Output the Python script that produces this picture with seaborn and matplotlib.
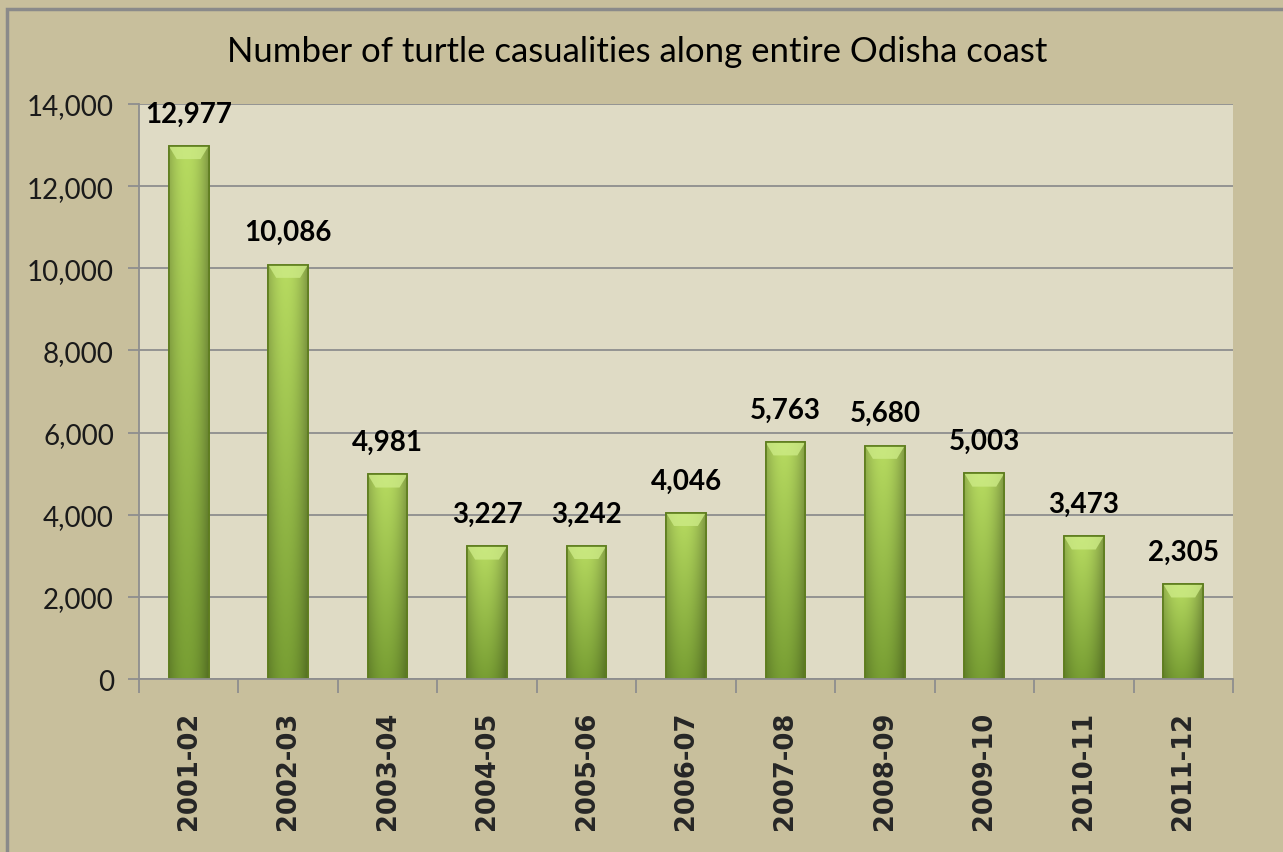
import numpy as np
import pandas as pd
import matplotlib
matplotlib.use("Agg")
import matplotlib.pyplot as plt
from matplotlib.patches import Rectangle
from matplotlib.ticker import FuncFormatter, MultipleLocator
import seaborn as sns

seasons = ["2001-02", "2002-03", "2003-04", "2004-05", "2005-06", "2006-07",
           "2007-08", "2008-09", "2009-10", "2010-11", "2011-12"]
casualties = [12977, 10086, 4981, 3227, 3242, 4046, 5763, 5680, 5003, 3473, 2305]

title = "Number of turtle casualities along entire Odisha coast"

outer_bg = "#C8BF9C"
plot_bg = "#DFDBC5"
grid_col = "#8E8E8E"

df = pd.DataFrame({"season": seasons, "casualties": casualties})

sns.set_theme(style="white")
plt.rcParams["font.family"] = ["Lato", "DejaVu Sans"]

fig = plt.figure(figsize=(12.83, 8.53), dpi=100, facecolor=outer_bg)
ax = fig.add_axes([0.1083, 0.2028, 0.8527, 0.6742])
ax.set_facecolor(plot_bg)

sns.barplot(data=df, x="season", y="casualties", color="#9DC742",
            width=0.4, saturation=1, edgecolor="#5E7D1E", linewidth=1.2, ax=ax)

ax.set_ylim(0, 14000)
ax.set_xlim(-0.5, len(seasons) - 0.5)

# gradient fill on each bar
ny, nx = 120, 60
yy = np.linspace(0, 1, ny)[:, None]      # 0 = top, 1 = bottom
xx = np.linspace(0, 1, nx)[None, :]
top = np.array([0.72, 0.86, 0.38])
bot = np.array([0.47, 0.62, 0.20])
base = top + (bot - top) * yy[..., None]
edge = 1 - 0.30 * np.clip(np.abs(xx - 0.45) / 0.55, 0, 1) ** 2
img = np.clip(base * edge[..., None], 0, 1)
for p in list(ax.patches):
    x0, y0 = p.get_x(), p.get_y()
    w, h = p.get_width(), p.get_height()
    im = ax.imshow(img, extent=(x0, x0 + w, y0, y0 + h), aspect="auto",
                   zorder=p.get_zorder() + 0.1, interpolation="bilinear")
    im.set_clip_path(p)
    bevel = plt.Polygon([(x0, y0 + h), (x0 + w, y0 + h),
                         (x0 + w * 0.8, y0 + h - 320), (x0 + w * 0.2, y0 + h - 320)],
                        closed=True, facecolor="#CDEB86", edgecolor="none",
                        alpha=0.8, zorder=p.get_zorder() + 0.2)
    ax.add_patch(bevel)
    ax.add_patch(Rectangle((x0, y0), w, h, facecolor="none", edgecolor="#5E7D1E",
                           linewidth=1.2, zorder=p.get_zorder() + 0.3))
    ax.annotate(f"{int(round(h)):,}", (x0 + w / 2, h), xytext=(0, 14),
                textcoords="offset points", ha="center", va="bottom",
                fontsize=20, fontweight="bold", color="black")

ax.set_ylim(0, 14000)
ax.set_xlim(-0.5, len(seasons) - 0.5)

ax.yaxis.set_major_locator(MultipleLocator(2000))
ax.yaxis.set_major_formatter(FuncFormatter(lambda v, _: f"{int(v):,}"))
ax.grid(axis="y", color=grid_col, linewidth=1.3)
ax.set_axisbelow(True)

ax.set_xlabel("")
ax.set_ylabel("")
for s in ["top", "right"]:
    ax.spines[s].set_visible(False)
for s in ["left", "bottom"]:
    ax.spines[s].set_color(grid_col)
    ax.spines[s].set_linewidth(1.3)

ax.set_xticks(np.arange(len(seasons)))
ax.set_xticklabels(seasons, rotation=90, fontsize=18.5, fontweight="bold",
                   family="DejaVu Sans")
ax.tick_params(axis="x", length=0, pad=23)
ax.set_xticks(np.arange(len(seasons) + 1) - 0.5, minor=True)
ax.tick_params(axis="x", which="minor", length=10, width=1.3, color=grid_col,
               direction="out", bottom=True)
ax.tick_params(axis="y", length=8, width=1.3, color=grid_col, direction="out",
               left=True, labelsize=20, pad=10)
for lab in ax.get_yticklabels():
    lab.set_color("#1a1a1a")

fig.text(0.497, 0.939, title, ha="center", va="center", fontsize=25, color="black")

fig.patches.append(Rectangle((7 / 1283, -0.05), 1.2, 1 - 10 / 853 + 0.05,
                             transform=fig.transFigure, facecolor="none",
                             edgecolor="#8A8A8A", linewidth=2.5))

fig.savefig("out.png", dpi=100, facecolor=outer_bg)
